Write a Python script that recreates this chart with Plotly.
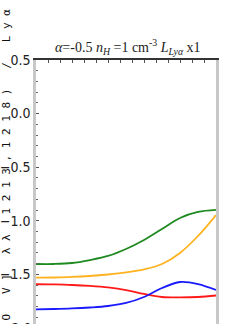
import plotly.graph_objects as go

x_vals = [0.0, 0.15, 0.3, 0.45, 0.6, 0.75, 0.9, 1.05, 1.2, 1.35, 1.5]
green_vals = [-1.403, -1.403, -1.394, -1.366, -1.328, -1.263, -1.179, -1.076, -0.974, -0.918, -0.899]
orange_vals = [-1.531, -1.529, -1.524, -1.515, -1.501, -1.482, -1.454, -1.403, -1.300, -1.142, -0.946]
red_vals = [-1.592, -1.594, -1.599, -1.608, -1.622, -1.646, -1.683, -1.711, -1.715, -1.711, -1.697]
blue_vals = [-1.826, -1.823, -1.818, -1.809, -1.795, -1.767, -1.711, -1.627, -1.571, -1.590, -1.646]
y_tick_vals = [0.5, 0.0, -0.5, -1.0, -1.5, -2.0]
y_tick_text = ["0.5", "0.0", "\u22120.5", "\u22121.0", "\u22121.5", "\u22122.0"]

series = [
    (green_vals, "#1f8a1f"),
    (orange_vals, "#ffb21f"),
    (red_vals, "#ff1a1a"),
    (blue_vals, "#1a1aff"),
]

fig = go.Figure()
for vals, col in series:
    fig.add_trace(go.Scatter(x=x_vals, y=vals, mode="lines",
                             line=dict(color=col, width=1.8, shape="spline"),
                             showlegend=False, hoverinfo="skip"))

ylo, yhi = -1.963, 0.5
tick_font = dict(family="Liberation Sans Narrow, DejaVu Sans Condensed", size=14, color="#222")
fig.update_layout(
    width=240, height=324,
    margin=dict(l=30, r=24, t=60, b=0),
    paper_bgcolor="white", plot_bgcolor="white",
    title=dict(
        text="<i>\u03b1</i>=-0.5 <i>n<sub>H</sub></i> =1 cm<sup>-3</sup> <i>L<sub>Ly\u03b1</sub></i> x1",
        x=0.51, xref="paper", xanchor="center",
        y=1 - 47 / 324, yref="container", yanchor="middle",
        font=dict(family="Liberation Serif", size=14, color="#222"),
    ),
    xaxis=dict(
        range=[0, 1.5], side="top", showline=True, linecolor="#333333", linewidth=2,
        ticks="inside", ticklen=3, tickcolor="#555", dtick=0.1, tick0=0,
        showticklabels=False, showgrid=False, zeroline=False,
    ),
    yaxis=dict(
        range=[ylo, yhi], showline=True, linecolor="#c8c8c8", linewidth=2.5, mirror=True,
        ticks="inside", ticklen=3, tickcolor="#555",
        tickvals=y_tick_vals, ticktext=y_tick_text,
        minor=dict(dtick=0.1, ticks="inside", ticklen=2, tickcolor="#666"),
        showgrid=False, zeroline=False,
        tickfont=tick_font,
    ),
)

# partial -2.0 label just below the visible area
fig.add_annotation(text="\u22122.0", xref="paper", yref="paper",
                   x=-0.012, y=(-2.0 - ylo) / (yhi - ylo), xanchor="right", yanchor="middle",
                   showarrow=False, font=tick_font)

label = "log(O V] \u03bb\u03bb 1213,1218) / Ly\u03b1"
spaced = " ".join(list(label))
fig.add_annotation(text=spaced, xref="paper", yref="paper",
                   x=(0 - 30) / 186, y=(324 - 6) / 264, xanchor="center", yanchor="top",
                   textangle=-90, showarrow=False,
                   font=dict(family="DejaVu Sans Mono", size=11, color="#111"))

fig.write_html("out.html", config={"displayModeBar": False},
               post_script="document.body.style.margin='0';")
